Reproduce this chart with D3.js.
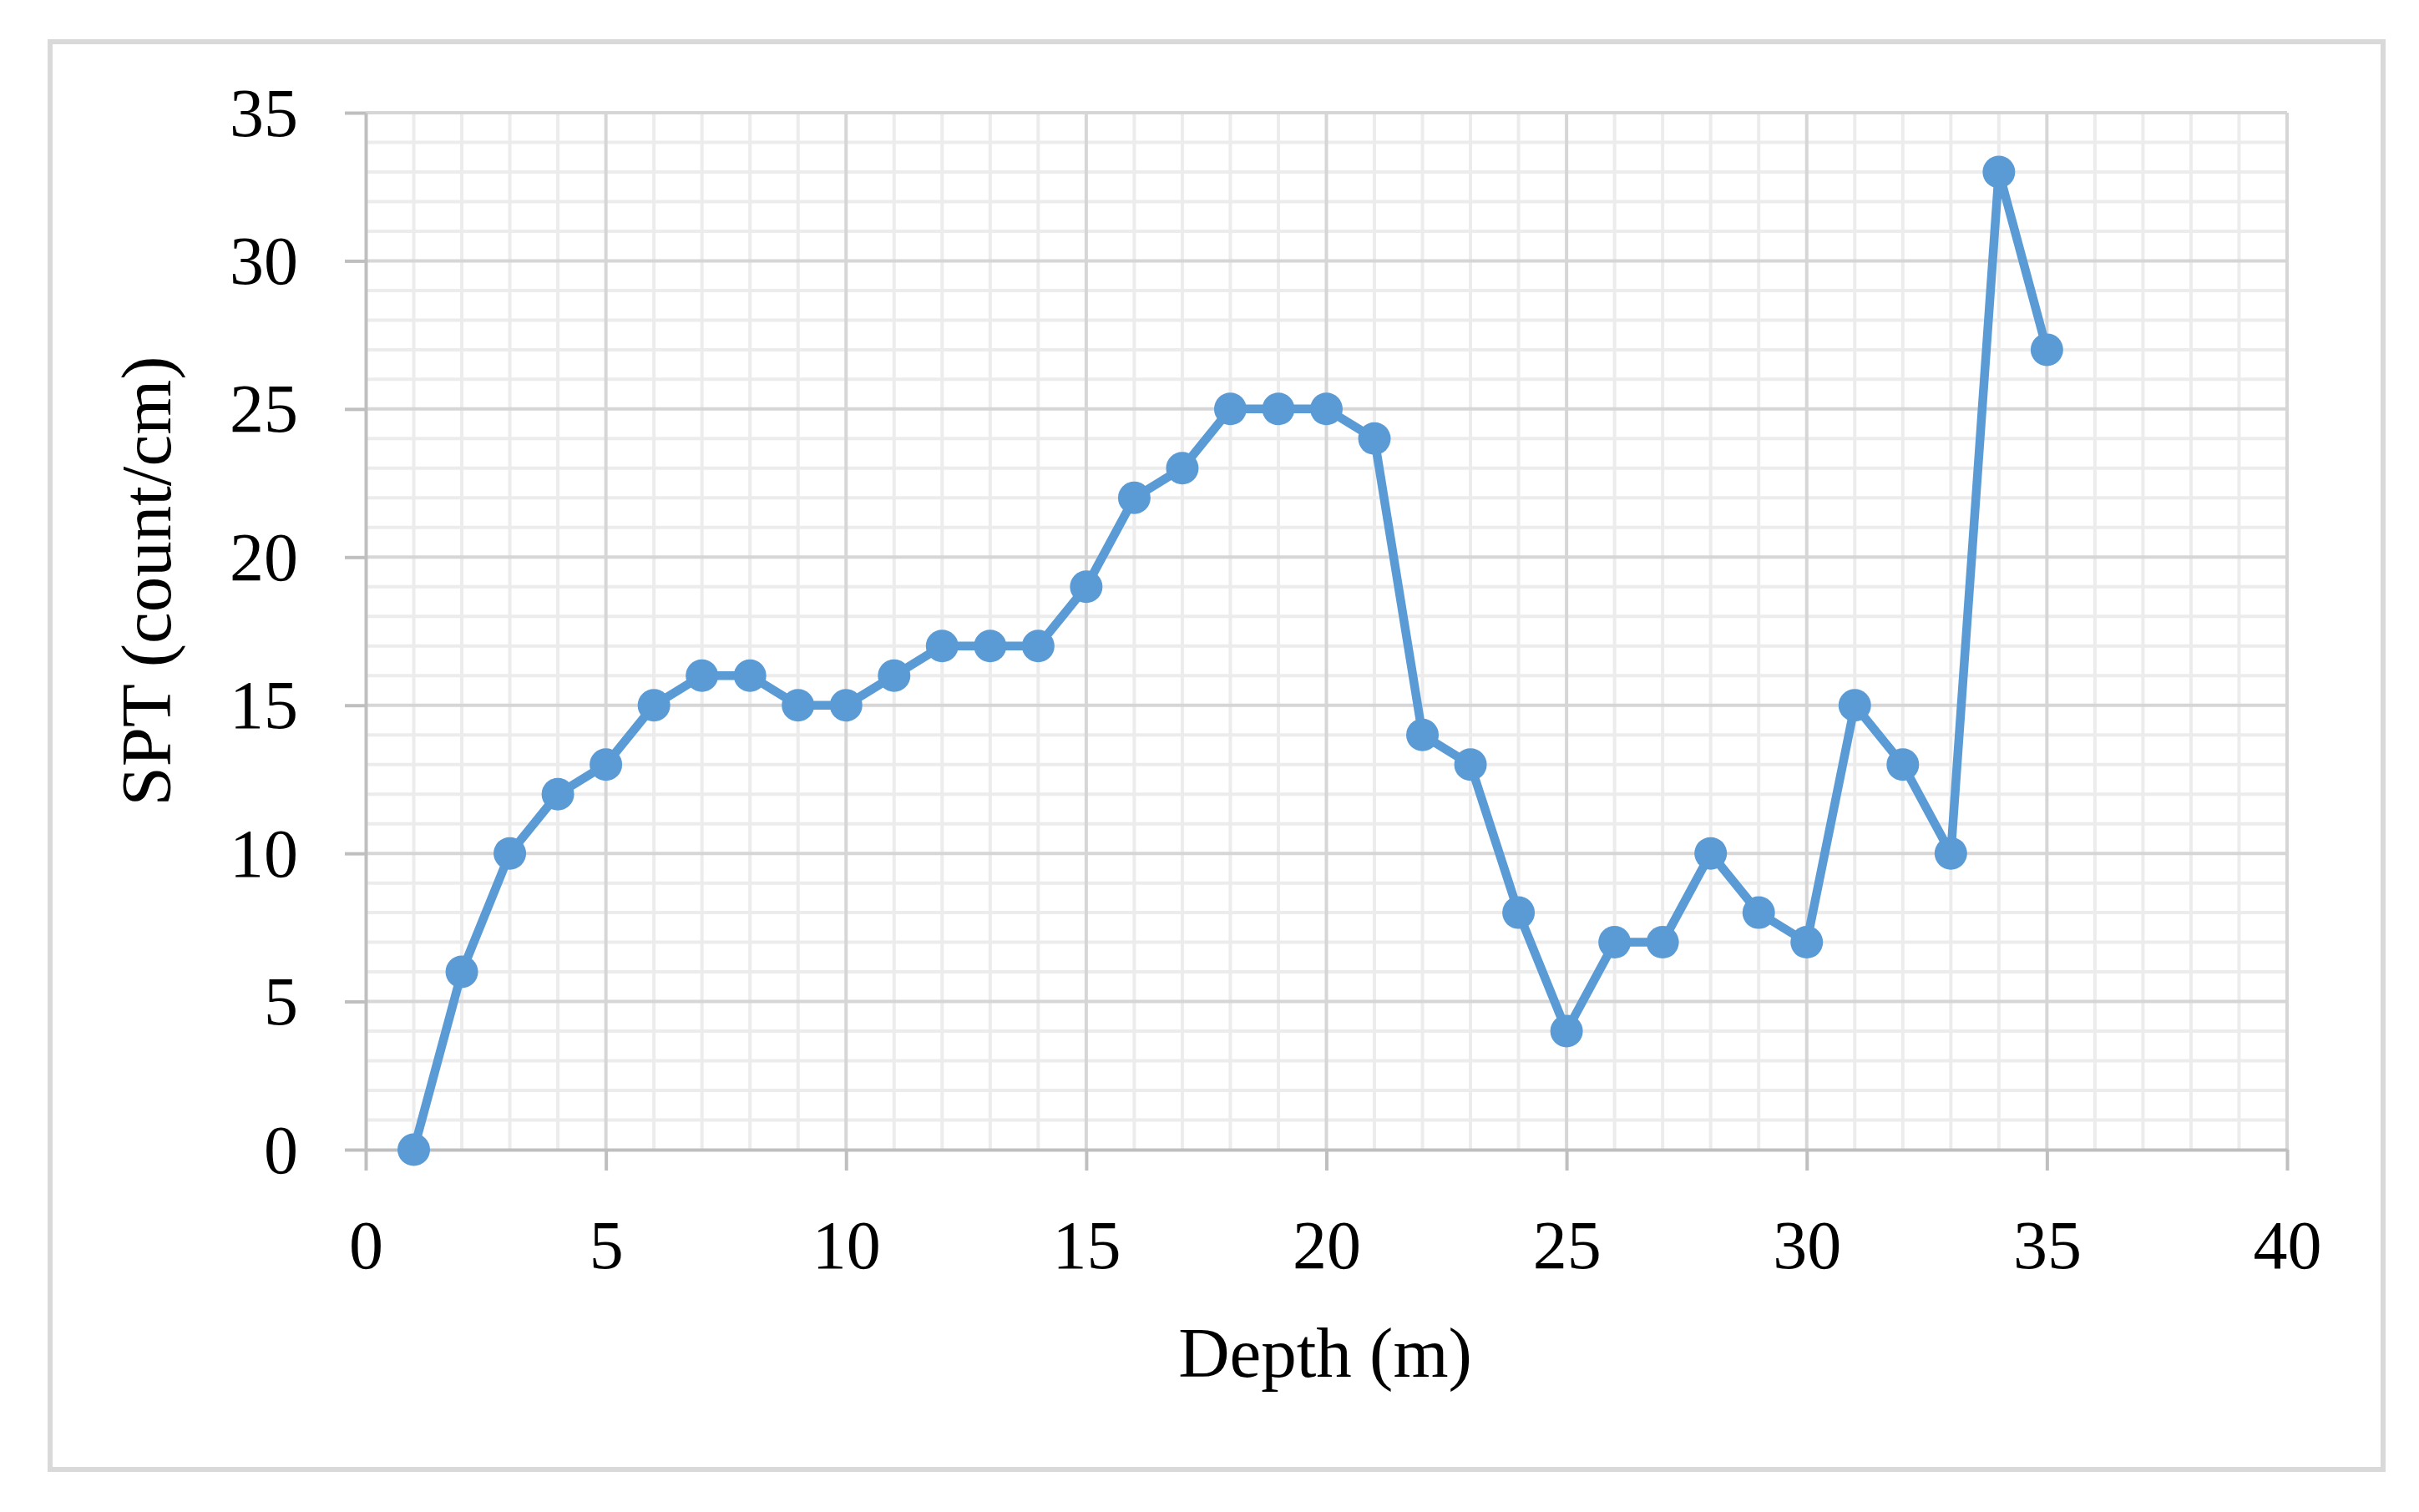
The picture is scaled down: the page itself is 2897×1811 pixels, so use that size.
<!DOCTYPE html>
<html>
<head>
<meta charset="utf-8">
<script src="https://cdn.jsdelivr.net/npm/d3@7"></script>
<style>
  html, body { margin: 0; padding: 0; background: #ffffff; }
  svg { display: block; }
  text { font-family: "Liberation Serif", "DejaVu Serif", serif; fill: #000; }
</style>
</head>
<body>
<svg id="chart" width="2897" height="1811"></svg>
<script>
// ---- Data ----
const depth = [1,2,3,4,5,6,7,8,9,10,11,12,13,14,15,16,17,18,19,20,21,22,23,24,25,26,27,28,29,30,31,32,33,34,35];
const spt   = [0,6,10,12,13,15,16,16,15,15,16,17,17,17,19,22,23,25,25,25,24,14,13,8,4,7,7,10,8,7,15,13,10,33,27];
const xTicks = [0,5,10,15,20,25,30,35,40];
const yTicks = [0,5,10,15,20,25,30,35];
const xTitle = "Depth (m)";
const yTitle = "SPT (count/cm)";

// ---- Layout ----
const W = 2897, H = 1811;
const plot = { left: 438, right: 2739, top: 135, bottom: 1377 };

const svg = d3.select("#chart");

// outer frame
svg.append("rect")
  .attr("x", 60).attr("y", 50)
  .attr("width", 2854 - 60).attr("height", 1760 - 50)
  .attr("fill", "#ffffff")
  .attr("stroke", "#d9d9d9")
  .attr("stroke-width", 6);

const x = d3.scaleLinear().domain([0, 40]).range([plot.left, plot.right]);
const y = d3.scaleLinear().domain([0, 35]).range([plot.bottom, plot.top]);

// minor gridlines
const minorX = d3.range(0, 41).filter(v => v % 5 !== 0);
const minorY = d3.range(0, 36).filter(v => v % 5 !== 0);
const grid = svg.append("g");
grid.selectAll(".mx").data(minorX).join("line")
  .attr("x1", d => x(d)).attr("x2", d => x(d))
  .attr("y1", plot.top).attr("y2", plot.bottom)
  .attr("stroke", "#ececec").attr("stroke-width", 4);
grid.selectAll(".my").data(minorY).join("line")
  .attr("x1", plot.left).attr("x2", plot.right)
  .attr("y1", d => y(d)).attr("y2", d => y(d))
  .attr("stroke", "#ececec").attr("stroke-width", 4);
// major gridlines
grid.selectAll(".Mx").data(xTicks.filter(v => v > 0)).join("line")
  .attr("x1", d => x(d)).attr("x2", d => x(d))
  .attr("y1", plot.top).attr("y2", plot.bottom)
  .attr("stroke", "#d6d6d6").attr("stroke-width", 4);
grid.selectAll(".My").data(yTicks.filter(v => v > 0)).join("line")
  .attr("x1", plot.left).attr("x2", plot.right)
  .attr("y1", d => y(d)).attr("y2", d => y(d))
  .attr("stroke", "#d6d6d6").attr("stroke-width", 4);

// axes
const xAxis = d3.axisBottom(x).tickValues(xTicks).tickSize(25).tickSizeOuter(0).tickPadding(40);
const yAxis = d3.axisLeft(y).tickValues(yTicks).tickSize(25).tickSizeOuter(0).tickPadding(60);

const gx = svg.append("g").attr("transform", `translate(0,${plot.bottom})`).call(xAxis);
const gy = svg.append("g").attr("transform", `translate(${plot.left},0)`).call(yAxis);

[gx, gy].forEach(g => {
  g.select(".domain").attr("stroke", "#bfbfbf").attr("stroke-width", 4);
  g.selectAll(".tick line").attr("stroke", "#bfbfbf").attr("stroke-width", 4);
  g.selectAll(".tick text")
    .attr("font-family", '"Liberation Serif", serif')
    .attr("font-size", 82)
    .attr("fill", "#000");
});
gx.selectAll(".tick text").attr("dy", "0").attr("y", 142);
gy.selectAll(".tick text").attr("x", -81).attr("dy", "0.33em");

// axis titles
svg.append("text")
  .attr("x", (1407 + 1767) / 2).attr("y", 1649)
  .attr("text-anchor", "middle")
  .attr("font-size", 85)
  .text(xTitle);

svg.append("text")
  .attr("transform", "translate(204,696) rotate(-90)")
  .attr("text-anchor", "middle")
  .attr("font-size", 85)
  .text(yTitle);

// series
const line = d3.line().x((d, i) => x(depth[i])).y(d => y(d));
svg.append("path")
  .datum(spt)
  .attr("d", line)
  .attr("fill", "none")
  .attr("stroke", "#5b9bd5")
  .attr("stroke-width", 10.5)
  .attr("stroke-linejoin", "round");

svg.append("g").selectAll("circle").data(spt).join("circle")
  .attr("cx", (d, i) => x(depth[i]))
  .attr("cy", d => y(d))
  .attr("r", 19.5)
  .attr("fill", "#5b9bd5");
</script>
</body>
</html>
